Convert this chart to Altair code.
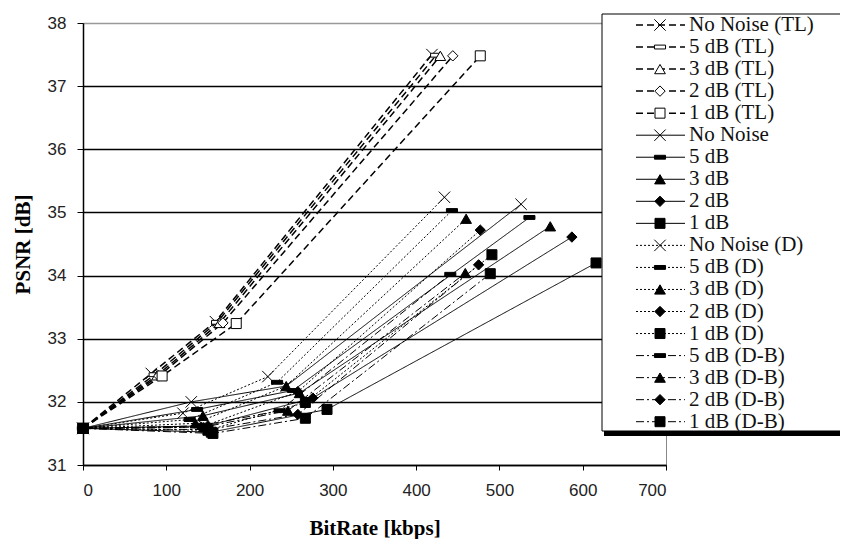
import altair as alt
import pandas as pd

# ---- data (BitRate kbps, PSNR dB) ----
TL_NN_X = [0, 82, 159, 419];  TL_NN_Y = [31.58, 32.45, 33.27, 37.50]
TL_5_X = [0, 86, 161, 424];   TL_5_Y = [31.58, 32.43, 33.26, 37.49]
TL_3_X = [0, 89, 164, 429];   TL_3_Y = [31.58, 32.42, 33.25, 37.48]
TL_2_X = [0, 91, 168, 444];   TL_2_Y = [31.58, 32.41, 33.25, 37.48]
TL_1_X = [0, 95, 184, 477];   TL_1_Y = [31.58, 32.41, 33.24, 37.48]

S_NN_X = [0, 130, 244, 526];  S_NN_Y = [31.58, 32.00, 32.25, 35.13]
S_5_X = [0, 137, 252, 536];   S_5_Y = [31.58, 31.88, 32.18, 34.92]
S_3_X = [0, 144, 260, 561];   S_3_Y = [31.58, 31.78, 32.14, 34.78]
S_2_X = [0, 150, 276, 587];   S_2_Y = [31.58, 31.62, 32.06, 34.61]
S_1_X = [0, 154, 293, 616];   S_1_Y = [31.58, 31.52, 31.88, 34.20]

D_NN_X = [0, 120, 222, 434];  D_NN_Y = [31.58, 31.82, 32.40, 35.24]
D_5_X = [0, 128, 233, 443];   D_5_Y = [31.58, 31.72, 32.31, 35.03]
D_3_X = [0, 135, 244, 460];   D_3_Y = [31.58, 31.66, 32.25, 34.90]
D_2_X = [0, 142, 258, 477];   D_2_Y = [31.58, 31.60, 32.16, 34.72]
D_1_X = [0, 150, 267, 491];   D_1_Y = [31.58, 31.55, 31.99, 34.33]

DB_5_X = [0, 140, 236, 441];  DB_5_Y = [31.58, 31.62, 31.86, 34.02]
DB_3_X = [0, 145, 246, 459];  DB_3_Y = [31.58, 31.60, 31.86, 34.04]
DB_2_X = [0, 150, 258, 475];  DB_2_Y = [31.58, 31.56, 31.80, 34.17]
DB_1_X = [0, 156, 267, 489];  DB_1_Y = [31.58, 31.50, 31.74, 34.03]

NAMES = ["No Noise (TL)", "5 dB (TL)", "3 dB (TL)", "2 dB (TL)", "1 dB (TL)",
         "No Noise", "5 dB", "3 dB", "2 dB", "1 dB",
         "No Noise (D)", "5 dB (D)", "3 dB (D)", "2 dB (D)", "1 dB (D)",
         "5 dB (D-B)", "3 dB (D-B)", "2 dB (D-B)", "1 dB (D-B)"]
GROUPS = ["TL"] * 5 + ["S"] * 5 + ["D"] * 5 + ["DB"] * 4
MARKERS = ["x", "dash", "tri", "dia", "sq"] * 3 + ["dash", "tri", "dia", "sq"]
XS = [TL_NN_X, TL_5_X, TL_3_X, TL_2_X, TL_1_X,
      S_NN_X, S_5_X, S_3_X, S_2_X, S_1_X,
      D_NN_X, D_5_X, D_3_X, D_2_X, D_1_X,
      DB_5_X, DB_3_X, DB_2_X, DB_1_X]
YS = [TL_NN_Y, TL_5_Y, TL_3_Y, TL_2_Y, TL_1_Y,
      S_NN_Y, S_5_Y, S_3_Y, S_2_Y, S_1_Y,
      D_NN_Y, D_5_Y, D_3_Y, D_2_Y, D_1_Y,
      DB_5_Y, DB_3_Y, DB_2_Y, DB_1_Y]

X_TICKS = [0, 100, 200, 300, 400, 500, 600, 700]
Y_TICKS = [31, 32, 33, 34, 35, 36, 37, 38]

rows = []
for i, (n, g, m, xs, ys) in enumerate(zip(NAMES, GROUPS, MARKERS, XS, YS)):
    for x, y in zip(xs, ys):
        rows.append({"series": n, "group": g, "marker": m, "x": x, "y": y,
                     "fillc": "white" if g == "TL" else "black",
                     "lw": 1.5 if g == "TL" else 1.0})
df = pd.DataFrame(rows)

leg = pd.DataFrame({"series": NAMES, "group": GROUPS, "marker": MARKERS,
                    "row": list(range(len(NAMES))),
                    "fillc": ["white" if g == "TL" else "black" for g in GROUPS],
                    "lw": [1.5 if g == "TL" else 1.0 for g in GROUPS]})

dash_scale = alt.Scale(domain=["TL", "S", "D", "DB"],
                       range=[[7, 4], [1, 0], [2, 2], [8, 3, 2, 3]])
shape_scale = alt.Scale(domain=["x", "dash", "tri", "dia", "sq"],
                        range=["M-1,-1L1,1M-1,1L1,-1",
                               "M-1,-0.35L1,-0.35L1,0.35L-1,0.35Z",
                               "triangle-up", "diamond", "square"])
size_scale = alt.Scale(domain=["x", "dash", "tri", "dia", "sq"],
                       range=[130, 100, 95, 80, 130])

xax = alt.Axis(values=X_TICKS, format="d", grid=False, tickSize=5, tickColor="black",
               domainColor="black", domainWidth=1.5, labelFont="Liberation Sans",
               labelFontSize=17, labelColor="#222", labelPadding=12,
               title="BitRate [kbps]", titleFont="Liberation Serif",
               titleFontSize=21, titleFontWeight="bold", titleColor="black",
               titlePadding=19)
yax = alt.Axis(values=Y_TICKS, format="d", grid=True, gridWidth=1.5,
               gridColor=alt.condition("datum.value == 38", alt.value("#999999"), alt.value("#000000")),
               tickSize=6, tickColor="black", domainColor="black", domainWidth=1.5,
               labelFont="Liberation Sans", labelFontSize=17, labelColor="#222",
               labelPadding=11, title="PSNR [dB]", titleFont="Liberation Serif",
               titleFontSize=21, titleFontWeight="bold", titleColor="black",
               titlePadding=14)

base = alt.Chart(df)
lines = base.mark_line(color="black").encode(
    x=alt.X("x:Q", scale=alt.Scale(domain=[0, 700], nice=False), axis=xax),
    y=alt.Y("y:Q", scale=alt.Scale(domain=[31, 38], nice=False, zero=False), axis=yax),
    detail="series:N",
    strokeDash=alt.StrokeDash("group:N", scale=dash_scale, legend=None),
    strokeWidth=alt.StrokeWidth("lw:Q", scale=None),
    order="x:Q",
)
points = base.mark_point(filled=True, stroke="black", strokeWidth=1, opacity=1).encode(
    x="x:Q", y="y:Q",
    shape=alt.Shape("marker:N", scale=shape_scale, legend=None),
    size=alt.Size("marker:N", scale=size_scale, legend=None),
    fill=alt.Fill("fillc:N", scale=None),
)
main = alt.layer(lines, points)

one = alt.InlineData(values=[{"k": 0}])
shadow = alt.Chart(one).mark_rect(fill="black").encode(
    x=alt.value(521), x2=alt.value(800), y=alt.value(405), y2=alt.value(413))
box = alt.Chart(one).mark_rect(fill="white", stroke="black", strokeWidth=1).encode(
    x=alt.value(519), x2=alt.value(800), y=alt.value(-9), y2=alt.value(408))

ly = alt.Y("row:Q", scale=alt.Scale(domain=[0, 18], range=[2, 398.7]), axis=None)
lb = alt.Chart(leg)
lrule = lb.mark_rule(color="black").encode(
    x=alt.value(553), x2=alt.value(602), y=ly,
    strokeDash=alt.StrokeDash("group:N", scale=dash_scale, legend=None),
    strokeWidth=alt.StrokeWidth("lw:Q", scale=None))
lpts = lb.mark_point(filled=True, stroke="black", strokeWidth=1, opacity=1).encode(
    x=alt.value(577), y=ly,
    shape=alt.Shape("marker:N", scale=shape_scale, legend=None),
    size=alt.Size("marker:N", scale=size_scale, legend=None),
    fill=alt.Fill("fillc:N", scale=None))
ltext = lb.mark_text(align="left", baseline="middle", font="Liberation Serif",
                     fontSize=21, color="#111").encode(
    x=alt.value(606), y=ly, text="series:N")
legend = alt.layer(shadow, box, lrule, lpts, ltext)

chart = alt.layer(main, legend).resolve_scale(y="independent").properties(
    width=583, height=442,
    padding={"left": 75, "top": 15, "right": 174, "bottom": 74},
    autosize=alt.AutoSizeParams(type="none"),
).configure_view(stroke="#888888", strokeWidth=1)

chart.save("out.html", embed_options={"renderer": "svg", "actions": False})
